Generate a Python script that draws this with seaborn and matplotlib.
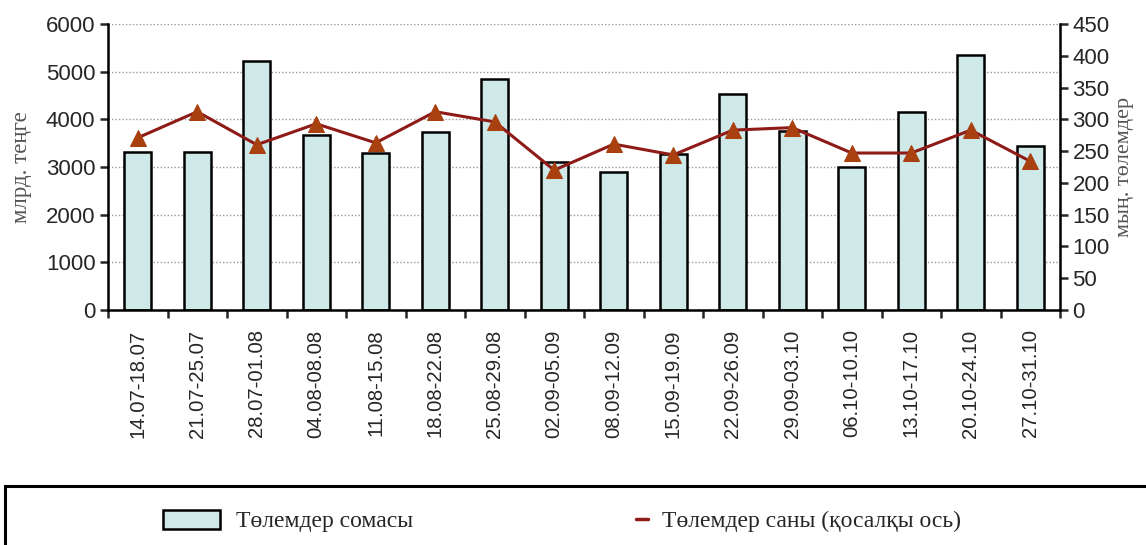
import numpy as np
import pandas as pd
import matplotlib
matplotlib.use("Agg")
import matplotlib.pyplot as plt
import seaborn as sns
from matplotlib.patches import Patch, Rectangle
from matplotlib.lines import Line2D
from matplotlib.ticker import FixedLocator

# ------- data -------
weeks = ["14.07-18.07", "21.07-25.07", "28.07-01.08", "04.08-08.08",
         "11.08-15.08", "18.08-22.08", "25.08-29.08", "02.09-05.09",
         "08.09-12.09", "15.09-19.09", "22.09-26.09", "29.09-03.10",
         "06.10-10.10", "13.10-17.10", "20.10-24.10", "27.10-31.10"]
pay_sum = [3320, 3320, 5220, 3670, 3290, 3740, 4840, 3110,
           2900, 3270, 4540, 3760, 2990, 4160, 5350, 3450]
pay_cnt = [271, 312, 260, 293, 263, 312, 296, 220,
           261, 244, 283, 287, 247, 247, 283, 234]

sum_label = "Төлемдер сомасы"
cnt_label = "Төлемдер саны (қосалқы ось)"
left_ylabel = "млрд. теңге"
right_ylabel = "мың. төлемдер"

bar_col  = "#cfe8e8"
line_col = "#8e1b17"
mark_col = "#a8400f"

W, H = 1146, 545

df = pd.DataFrame({"week": weeks, "sum": pay_sum, "cnt": pay_cnt})

sns.set_style("white")
plt.rcParams["font.family"] = ["Liberation Sans", "DejaVu Sans"]

fig = plt.figure(figsize=(W / 100, H / 100), dpi=100)
ax = fig.add_axes([108 / W, 1 - 310 / H, 952 / W, 286 / H])

sns.barplot(data=df, x="week", y="sum", color=bar_col, width=0.45,
            edgecolor="black", linewidth=1.8, saturation=1, ax=ax, zorder=2)
ax.set_ylim(0, 6000)
ax.set_xlim(-0.5, len(weeks) - 0.5)
ax.set_yticks(np.arange(0, 6001, 1000))
ax.yaxis.grid(True, linestyle=(0, (1, 1.5)), color="#999999", linewidth=1)
ax.set_axisbelow(True)
ax.set_xlabel("")
ax.set_ylabel(left_ylabel, family=["Liberation Serif"], fontsize=16.5,
              color="#555555", labelpad=10)

for s in ["top", "right"]:
    ax.spines[s].set_visible(False)
for s in ["left", "bottom"]:
    ax.spines[s].set_linewidth(1.8)
    ax.spines[s].set_color("black")

ax.tick_params(axis="y", labelsize=16, length=6, width=1.8, direction="out", left=True, pad=3)
ax.tick_params(axis="x", which="major", labelsize=14.6, length=0, rotation=90, pad=14)
ax.xaxis.set_minor_locator(FixedLocator(np.arange(-0.5, len(weeks), 1.0)))
ax.tick_params(axis="x", which="minor", length=6, width=1.8, direction="out", bottom=True)

# secondary axis - number of payments
ax2 = ax.twinx()
sns.lineplot(x=np.arange(len(weeks)), y=pay_cnt, ax=ax2, color=line_col,
             linewidth=2.2, marker="^", markersize=12, markerfacecolor=mark_col,
             markeredgecolor=mark_col, zorder=3)
ax2.set_ylim(0, 450)
ax2.set_yticks(np.arange(0, 451, 50))
ax2.grid(False)
for s in ["top", "left", "bottom"]:
    ax2.spines[s].set_visible(False)
ax2.spines["right"].set_linewidth(1.8)
ax2.spines["right"].set_color("black")
ax2.tick_params(axis="y", labelsize=16, length=6, width=1.8, direction="out", right=True, pad=3)
ax2.set_ylabel(right_ylabel, family=["Liberation Serif"], fontsize=16,
               color="#555555", rotation=90, labelpad=4)

# legend box at the bottom, cut off by the image edge
fig.patches.append(Rectangle((5 / W, -0.05), 1.0, 1 - 486 / H + 0.05,
                             transform=fig.transFigure, fill=False,
                             edgecolor="black", linewidth=2.2))
leg_font = {"family": "Liberation Serif", "size": 17}
leg1 = fig.legend([Patch(facecolor=bar_col, edgecolor="black", linewidth=1.8)],
                  [sum_label], loc="center left", bbox_to_anchor=(163 / W, 1 - 521 / H),
                  frameon=False, prop=leg_font, handlelength=2.4, handleheight=0.9,
                  handletextpad=0.7, borderpad=0, borderaxespad=0)
leg2 = fig.legend([Line2D([0], [0], color=line_col, linewidth=2.5)],
                  [cnt_label], loc="center left", bbox_to_anchor=(636 / W, 1 - 521 / H),
                  frameon=False, prop=leg_font, handlelength=0.5,
                  handletextpad=0.6, borderpad=0, borderaxespad=0)

fig.savefig("out.png", dpi=100)
